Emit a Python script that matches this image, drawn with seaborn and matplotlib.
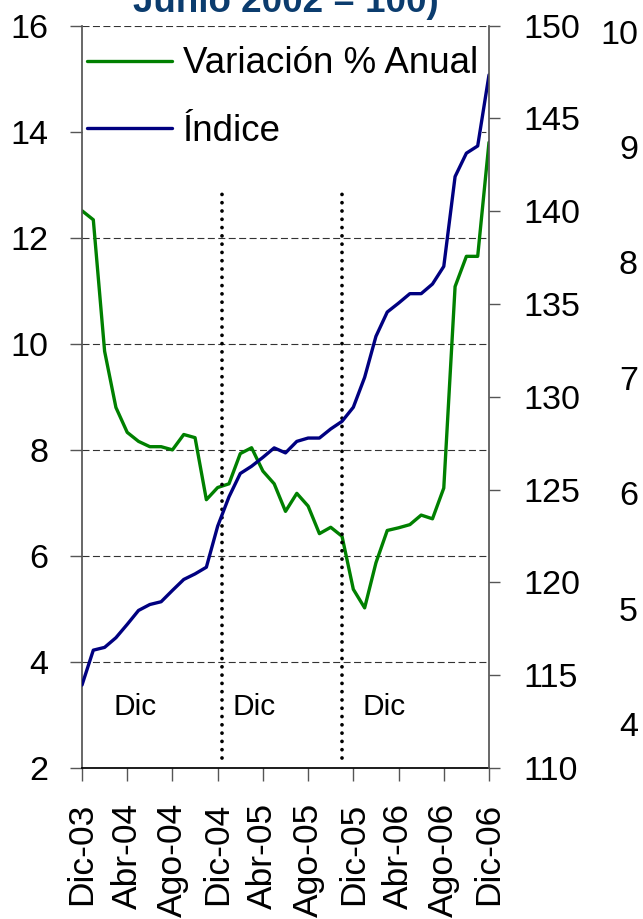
import numpy as np
import pandas as pd
import matplotlib
matplotlib.use('Agg')
import matplotlib.pyplot as plt
import seaborn as sns

# monthly data, Dic-03 .. Dic-06 (37 points)
variacion = [12.51, 12.34, 9.86, 8.80, 8.33, 8.16, 8.06, 8.06, 8.00, 8.29,
             8.23, 7.06, 7.29, 7.36, 7.93, 8.04, 7.60, 7.36, 6.84, 7.18,
             6.94, 6.42, 6.54, 6.37, 5.37, 5.02, 5.87, 6.48, 6.53, 6.59,
             6.77, 6.70, 7.28, 11.08, 11.65, 11.65, 13.80]
indice = [114.47, 116.35, 116.50, 117.02, 117.74, 118.49, 118.81, 118.96, 119.57, 120.16,
          120.46, 120.82, 123.03, 124.61, 125.87, 126.26, 126.74, 127.25, 126.98, 127.60,
          127.78, 127.78, 128.27, 128.68, 129.44, 131.05, 133.26, 134.57, 135.05, 135.56,
          135.56, 136.08, 137.03, 141.87, 143.13, 143.52, 147.35]
tick_labels = ['Dic-03', 'Abr-04', 'Ago-04', 'Dic-04', 'Abr-05', 'Ago-05',
               'Dic-05', 'Abr-06', 'Ago-06', 'Dic-06']
separadores = [12.4, 23.0]
dic_pos = [2.75, 13.35, 24.85]
otros_ticks = ['10', '9', '8', '7', '6', '5', '4']

df = pd.DataFrame({'mes': np.arange(len(variacion)),
                   'variacion': variacion,
                   'indice': indice})

sns.set_theme(style='ticks')
plt.rcParams['font.family'] = ['Liberation Sans', 'DejaVu Sans']
plt.rcParams['text.color'] = 'black'

W, H = 643, 919
fig = plt.figure(figsize=(W / 100, H / 100), dpi=100)
ax = fig.add_axes([82 / W, 1 - 768 / H, 407 / W, 742.3 / H])
ax2 = ax.twinx()

sns.lineplot(data=df, x='mes', y='variacion', ax=ax, color='#008000', lw=2.4,
             label='Variación % Anual', legend=False)
sns.lineplot(data=df, x='mes', y='indice', ax=ax2, color='#000080', lw=2.4,
             label='Índice', legend=False)

for s in separadores:
    ax.axvline(s, ymin=0.013, ymax=0.78, color='black', lw=2.7,
               linestyle=(0, (0.01, 2.2)), dash_capstyle='round')
for p in dic_pos:
    ax.text(p, 3.0, 'Dic', ha='left', va='baseline', fontsize=21.5,
            color='black')

ax.set_xlim(0, 36)
ax.set_ylim(2, 16)
ax.set_yticks(range(2, 17, 2))
ax2.set_ylim(110, 150)
ax2.set_yticks(range(110, 151, 5))
ax.set_xticks(range(0, 37, 4))
ax.set_xticklabels(tick_labels, rotation=90)
ax.set_xlabel('')
ax.set_ylabel('')
ax2.set_ylabel('')

ax.grid(axis='y', linestyle=(0, (6.3, 3.1)), color='#333333', lw=0.8)
ax.grid(axis='x', visible=False)
ax2.grid(False)

for a in (ax, ax2):
    a.spines['top'].set_visible(False)
ax.spines['right'].set_visible(False)
ax.spines['left'].set_color('#555555')
ax.spines['bottom'].set_color('black')
ax2.spines['left'].set_visible(False)
ax2.spines['bottom'].set_visible(False)
ax2.spines['right'].set_color('#555555')

ax.tick_params(axis='y', left=True, direction='out', length=9, width=1,
               pad=15, labelsize=24.6, color='#555555', labelcolor='black')
ax.tick_params(axis='x', bottom=True, direction='out', length=9, width=1,
               pad=16, labelsize=25.5, color='#555555', labelcolor='black')
ax2.tick_params(axis='y', right=True, direction='out', length=8, width=1,
                pad=16.5, labelsize=24.6, color='#555555', labelcolor='black')

handles = ax.get_lines()[:1] + ax2.get_lines()[:1]
leg = ax2.legend(handles, [h.get_label() for h in handles], loc='upper left',
                 bbox_to_anchor=(0.003, 0.977), fontsize=26.5, frameon=True,
                 fancybox=False, framealpha=1, borderpad=0.1,
                 handlelength=2.3, handletextpad=0.3, labelspacing=0.88,
                 borderaxespad=0)
leg.get_frame().set_facecolor('white')
leg.get_frame().set_linewidth(0)
leg.set_zorder(1.5)  # keep the index line drawn over the legend box
for t in leg.get_texts():
    t.set_color('black')

fig.text(285.5 / W, 1 - 12 / H, 'Junio 2002 = 100)', ha='center', va='baseline',
         fontsize=26.5, fontweight='bold', color='#0b3c6e')

for k, t in enumerate(otros_ticks):
    fig.text(638 / W, 1 - (31 + 115.5 * k + 12.5) / H, t, ha='right',
             va='baseline', fontsize=24.6, color='black')

fig.savefig('out.png', dpi=100)
